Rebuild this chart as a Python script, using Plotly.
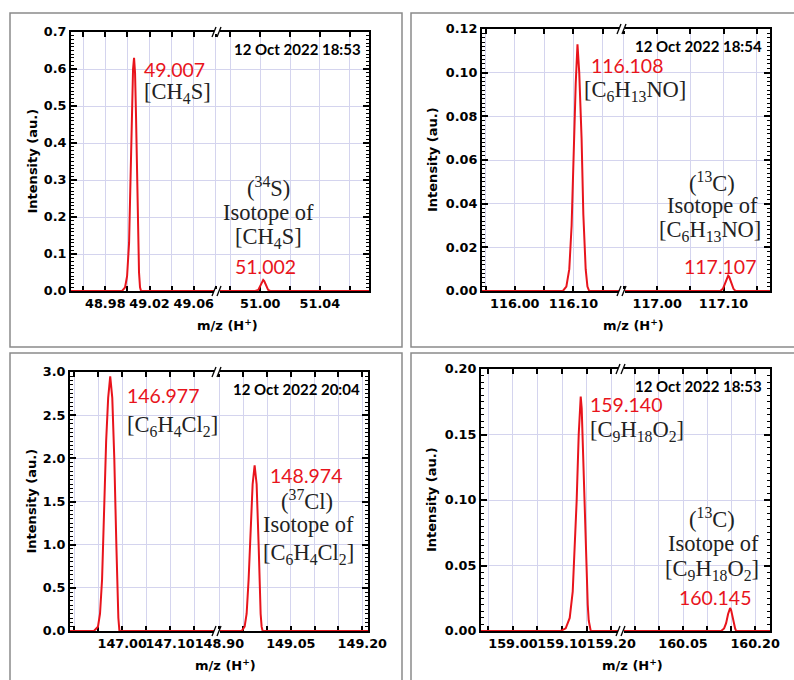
import plotly.graph_objects as go

W, H = 794, 680

# ---------------- data ----------------
# Panel 1 : CH4S
p1_left_x = [48.949, 48.9952, 48.9979, 48.9997, 49.0015, 49.0024, 49.0033, 49.0042, 49.0051,
             49.006, 49.0069, 49.0078, 49.0087, 49.0096, 49.0105, 49.0114, 49.0123, 49.081]
p1_left_y = [0, 0, 0.01, 0.04, 0.13, 0.27, 0.40, 0.52, 0.60, 0.63, 0.59, 0.47, 0.30, 0.15, 0.05, 0.01, 0, 0]
p1_right_x = [50.971, 50.9967, 50.9987, 51.0000, 51.0013, 51.002, 51.0027, 51.004, 51.0053, 51.0067, 51.073]
p1_right_y = [0, 0, 0.003, 0.013, 0.027, 0.03, 0.027, 0.013, 0.003, 0, 0]

# Panel 2 : C6H13NO
p2_left_x = [115.944, 116.082, 116.088, 116.093, 116.097, 116.100, 116.104, 116.107, 116.110,
             116.114, 116.117, 116.121, 116.124, 116.127, 116.183]
p2_left_y = [0, 0, 0.002, 0.01, 0.03, 0.06, 0.095, 0.113, 0.10, 0.07, 0.035, 0.01, 0.002, 0, 0]
p2_right_x = [116.947, 117.095, 117.099, 117.102, 117.1055, 117.107, 117.1085, 117.112, 117.115, 117.118, 117.170]
p2_right_y = [0, 0, 0.001, 0.0035, 0.0065, 0.007, 0.0065, 0.0035, 0.001, 0, 0]

# Panel 3 : C6H4Cl2
p3_left_x = [146.891, 146.941, 146.9494, 146.9537, 146.958, 146.9622, 146.9665, 146.9707, 146.975,
             146.9793, 146.9835, 146.9878, 146.9899, 146.992, 146.9942, 147.198]
p3_left_y = [0, 0, 0.05, 0.2, 0.6, 1.4, 2.2, 2.7, 2.95, 2.7, 2.0, 1.0, 0.5, 0.15, 0, 0]
p3_right_x = [148.895, 148.9467, 148.953, 148.9572, 148.9614, 148.9656, 148.9698, 148.974,
              148.9782, 148.9824, 148.9845, 148.9866, 148.9887, 148.9908, 149.212]
p3_right_y = [0, 0, 0.05, 0.2, 0.6, 1.2, 1.7, 1.92, 1.7, 1.0, 0.55, 0.2, 0.05, 0, 0]

# Panel 4 : C9H18O2
p4_left_x = [158.935, 159.0972, 159.1074, 159.1156, 159.1217, 159.1258, 159.1298, 159.1339, 159.138,
             159.140, 159.1441, 159.1482, 159.1523, 159.1543, 159.1584, 159.220]
p4_left_y = [0, 0, 0.002, 0.01, 0.03, 0.06, 0.10, 0.15, 0.179, 0.17, 0.12, 0.06, 0.02, 0.008, 0, 0]
p4_right_x = [159.921, 160.1293, 160.1355, 160.1397, 160.1438, 160.148, 160.1501, 160.1542, 160.1584, 160.1605, 160.231]
p4_right_y = [0, 0, 0.002, 0.006, 0.013, 0.0175, 0.016, 0.008, 0.002, 0, 0]

# tick labels of each axis segment
p1_left_ticks, p1_right_ticks = [48.98, 49.02, 49.06], [51.00, 51.04]
p2_left_ticks, p2_right_ticks = [116.00, 116.10], [117.00, 117.10]
p3_left_ticks, p3_right_ticks = [147.00, 147.10], [148.90, 149.05, 149.20]
p4_left_ticks, p4_right_ticks = [159.00, 159.10, 159.20], [160.05, 160.20]

timestamps = ["12 Oct 2022 18:53", "12 Oct 2022 18:54", "12 Oct 2022 20:04", "12 Oct 2022 18:53"]
peak_labels = [("49.007", "51.002"), ("116.108", "117.107"), ("146.977", "148.974"), ("159.140", "160.145")]
formulas = ["[CH<sub>4</sub>S]", "[C<sub>6</sub>H<sub>13</sub>NO]",
            "[C<sub>6</sub>H<sub>4</sub>Cl<sub>2</sub>]", "[C<sub>9</sub>H<sub>18</sub>O<sub>2</sub>]"]
isotopes = ["(<sup>34</sup>S)", "(<sup>13</sup>C)", "(<sup>37</sup>Cl)", "(<sup>13</sup>C)"]
y_title = "Intensity (au.)"
x_title = "m/z (H<sup>+</sup>)"

series = [(p1_left_x, p1_left_y, p1_right_x, p1_right_y),
          (p2_left_x, p2_left_y, p2_right_x, p2_right_y),
          (p3_left_x, p3_left_y, p3_right_x, p3_right_y),
          (p4_left_x, p4_left_y, p4_right_x, p4_right_y)]
tick_sets = [(p1_left_ticks, p1_right_ticks), (p2_left_ticks, p2_right_ticks),
             (p3_left_ticks, p3_right_ticks), (p4_left_ticks, p4_right_ticks)]

# ---------------- layout / style ----------------
RED = "#e8141c"
GRID = "#d4d4ee"
SANS = "DejaVu Sans"
SERIF = "Liberation Serif"
CAL = "Lato"
TXT = "#222222"
SERIF_SIZE = 22.5
RED_SIZE = 19.5

def px(x):
    return x / W

def py(y):
    return 1 - y / H

panels = [
    dict(box=(10, 13, 402, 347), plot=(71, 217, 369, 32, 291), ytitle_dx=39,
         xa=dict(range=[48.949, 49.081], tick0=48.98, minor=0.02),
         xb=dict(range=[50.971, 51.073], tick0=51.0, minor=0.02),
         y=dict(range=[0, 0.7], dtick=0.1, fmt=".1f")),
    dict(box=(411, 13, 810, 347), plot=(482, 622, 770, 29, 291), ytitle_dx=50,
         xa=dict(range=[115.944, 116.183], tick0=116.0, minor=0.05),
         xb=dict(range=[116.947, 117.170], tick0=117.0, minor=0.05),
         y=dict(range=[0, 0.12], dtick=0.02, fmt=".2f")),
    dict(box=(10, 353, 402, 700), plot=(70, 217, 368, 372, 631), ytitle_dx=39,
         xa=dict(range=[146.891, 147.198], tick0=147.0, minor=0.05),
         xb=dict(range=[148.895, 149.212], tick0=148.9, minor=0.05),
         y=dict(range=[0, 3.0], dtick=0.5, fmt=".1f")),
    dict(box=(411, 353, 810, 700), plot=(481, 621, 770, 369, 631), ytitle_dx=50,
         xa=dict(range=[158.935, 159.22], tick0=159.0, minor=0.05),
         xb=dict(range=[159.921, 160.231], tick0=160.05, minor=0.05),
         y=dict(range=[0, 0.2], dtick=0.05, fmt=".2f")),
]

fig = go.Figure()
layout = dict(width=W, height=H, margin=dict(l=0, r=0, t=0, b=0, autoexpand=False),
              paper_bgcolor="white", plot_bgcolor="white", showlegend=False)
shapes = []
annotations = []

tickfont = dict(family=SANS, size=12.8, color="black", weight="bold")

for i, (p, s, tk) in enumerate(zip(panels, series, tick_sets)):
    xa_id, xb_id = 2 * i + 1, 2 * i + 2
    ya_id, yb_id = 2 * i + 1, 2 * i + 2
    xl, xm, xr, yt, yb = p["plot"]
    lx, ly, rx, ry = s
    fig.add_trace(go.Scatter(x=lx, y=ly, mode="lines", line=dict(color=RED, width=2),
                             xaxis=f"x{xa_id}", yaxis=f"y{ya_id}", hoverinfo="skip"))
    fig.add_trace(go.Scatter(x=rx, y=ry, mode="lines", line=dict(color=RED, width=2),
                             xaxis=f"x{xb_id}", yaxis=f"y{yb_id}", hoverinfo="skip"))

    def xaxis(cfg, ticks, dom, anchor):
        return dict(domain=dom, anchor=anchor, range=cfg["range"], tickmode="array", tickvals=ticks,
                    ticktext=[f"{v:.2f}" for v in ticks], tickangle=0, automargin=False,
                    ticks="inside", ticklen=5, tickwidth=1.5, tickcolor="black",
                    showline=True, linewidth=2, linecolor="black", mirror="ticks",
                    showgrid=True, gridcolor=GRID, gridwidth=1, zeroline=False,
                    tickfont=tickfont, layer="below traces", fixedrange=True,
                    minor=dict(tickmode="linear", tick0=cfg["tick0"], dtick=cfg["minor"], ticks="inside",
                               ticklen=5, tickwidth=1.5, tickcolor="black", showgrid=True,
                               gridcolor=GRID, gridwidth=1))
    layout[f"xaxis{xa_id}"] = xaxis(p["xa"], tk[0], [px(xl), px(xm)], f"y{ya_id}")
    layout[f"xaxis{xb_id}"] = xaxis(p["xb"], tk[1], [px(xm), px(xr)], f"y{yb_id}")

    ycfg = p["y"]
    ybase = dict(domain=[py(yb), py(yt)], range=ycfg["range"], dtick=ycfg["dtick"], tick0=0,
                 tickformat=ycfg["fmt"], ticks="inside", ticklen=6, tickwidth=1.5, tickcolor="black",
                 showline=True, linewidth=2, linecolor="black", showgrid=True, gridcolor=GRID, gridwidth=1,
                 zeroline=False, tickfont=tickfont, layer="below traces", fixedrange=True,
                 automargin=False, tickangle=0,
                 minor=dict(dtick=ycfg["dtick"] / 10, ticks="inside", ticklen=3, tickwidth=1.2,
                            tickcolor="black", showgrid=False))
    layout[f"yaxis{ya_id}"] = dict(ybase, anchor=f"x{xa_id}", side="left")
    layout[f"yaxis{yb_id}"] = dict(ybase, anchor=f"x{xb_id}", side="right", showticklabels=False)

    # outer panel box
    bx0, by0, bx1, by1 = p["box"]
    shapes.append(dict(type="rect", xref="paper", yref="paper", x0=px(bx0), x1=px(bx1), y0=py(by1), y1=py(by0),
                       line=dict(color="#8a8a8a", width=1.5), fillcolor="rgba(0,0,0,0)", layer="below"))
    # axis break marks
    for yy in (yt, yb):
        shapes.append(dict(type="rect", xref="paper", yref="paper", x0=px(xm - 3), x1=px(xm + 3),
                           y0=py(yy + 2), y1=py(yy - 2), line=dict(width=0), fillcolor="white", layer="above"))
        for dx in (-3, 2):
            shapes.append(dict(type="line", xref="paper", yref="paper", x0=px(xm + dx - 2), y0=py(yy + 5),
                               x1=px(xm + dx + 2), y1=py(yy - 5), line=dict(color="black", width=1.3),
                               layer="above"))

    # axis titles
    annotations.append(dict(text=y_title, x=px(xl - p["ytitle_dx"]), y=py((yt + yb) / 2), xref="paper",
                            yref="paper", textangle=-90, showarrow=False, xanchor="center", yanchor="middle",
                            font=dict(family=SANS, size=13, color="black", weight="bold")))
    annotations.append(dict(text=x_title, x=px((xl + xr) / 2 + 7), y=py(yb + 34), xref="paper", yref="paper",
                            showarrow=False, xanchor="center", yanchor="middle",
                            font=dict(family=SANS, size=13, color="black", weight="bold")))
    # timestamp
    annotations.append(dict(text="<b>" + timestamps[i] + "</b>", x=px(xr - 6), y=py(yt + 17),
                            xref="paper", yref="paper", showarrow=False, xanchor="right", yanchor="middle",
                            font=dict(family=CAL, size=15, color="black")))

def txt(x, y, text, font, size, color, anchor="left"):
    annotations.append(dict(text=text, x=px(x), y=py(y), xref="paper", yref="paper", showarrow=False,
                            xanchor=anchor, yanchor="middle", font=dict(family=font, size=size, color=color)))

# panel 1 labels
txt(142, 70, peak_labels[0][0], CAL, RED_SIZE, RED)
txt(142, 93, formulas[0], SERIF, SERIF_SIZE, TXT)
txt(268, 187, isotopes[0], SERIF, SERIF_SIZE, TXT, "center")
txt(268, 212, "Isotope of", SERIF, SERIF_SIZE, TXT, "center")
txt(268, 238, formulas[0], SERIF, SERIF_SIZE, TXT, "center")
txt(265, 267, peak_labels[0][1], CAL, RED_SIZE, RED, "center")
# panel 2 labels
txt(589, 66, peak_labels[1][0], CAL, RED_SIZE, RED)
txt(582, 91, formulas[1], SERIF, SERIF_SIZE, TXT)
txt(712, 182, isotopes[1], SERIF, SERIF_SIZE, TXT, "center")
txt(712, 205, "Isotope of", SERIF, SERIF_SIZE, TXT, "center")
txt(710, 231, formulas[1], SERIF, SERIF_SIZE, TXT, "center")
txt(720, 267, peak_labels[1][1], CAL, RED_SIZE, RED, "center")
# panel 3 labels
txt(125, 395, peak_labels[2][0], CAL, RED_SIZE, RED)
txt(125, 426, formulas[2], SERIF, SERIF_SIZE, TXT)
txt(306, 475, peak_labels[2][1], CAL, RED_SIZE, RED, "center")
txt(307, 500, isotopes[2], SERIF, SERIF_SIZE, TXT, "center")
txt(308, 524, "Isotope of", SERIF, SERIF_SIZE, TXT, "center")
txt(308, 554, formulas[2], SERIF, SERIF_SIZE, TXT, "center")
# panel 4 labels
txt(588, 404, peak_labels[3][0], CAL, RED_SIZE, RED)
txt(588, 431, formulas[3], SERIF, SERIF_SIZE, TXT)
txt(712, 518, isotopes[3], SERIF, SERIF_SIZE, TXT, "center")
txt(713, 543, "Isotope of", SERIF, SERIF_SIZE, TXT, "center")
txt(712, 570, formulas[3], SERIF, SERIF_SIZE, TXT, "center")
txt(715, 597, peak_labels[3][1], CAL, RED_SIZE, RED, "center")

layout["shapes"] = shapes
layout["annotations"] = annotations
fig.update_layout(**layout)
fig.write_html("out.html")
